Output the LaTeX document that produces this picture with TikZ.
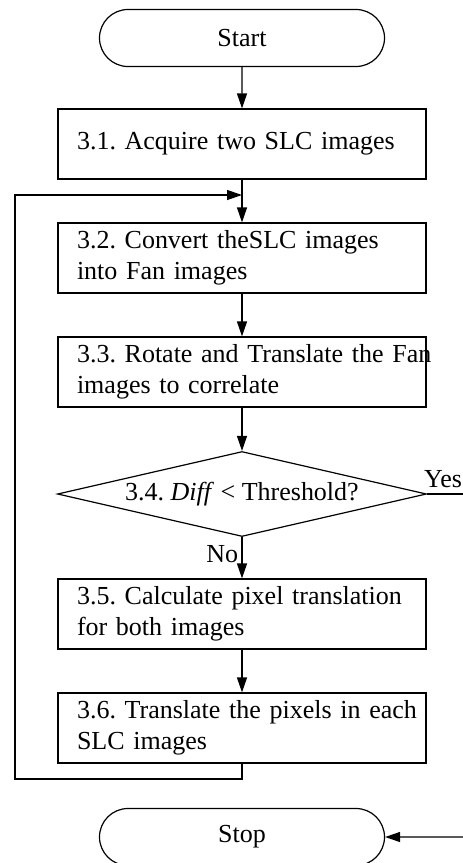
\documentclass[tikz,border=0pt]{standalone}
\usepackage{fontspec}
\setmainfont{Liberation Serif}
\usetikzlibrary{shapes.geometric,shapes.misc,arrows.meta}
\tikzset{
  terminal/.style={rounded rectangle, draw, minimum width=285pt, minimum height=57pt, inner sep=0pt},
  process/.style={rectangle, draw, minimum height=70pt, text width=330pt, inner xsep=19pt, inner ysep=0pt, align=left},
  decision/.style={diamond, draw, aspect=4.3, minimum width=369pt, minimum height=85pt, inner sep=0pt},
  flow/.style={-{Triangle[length=15pt,width=10pt]}}
}

\begin{document}
\begin{tikzpicture}[x=1pt, y=-1pt, line width=1.2pt, font=\fontsize{26}{31}\selectfont\frenchspacing]
  \useasboundingbox (0,0) rectangle (463,863);

  \node[terminal] (start) at (242,38) {Start};
  \node[process] (acq) at (242,144) {3.1. Acquire two SLC images};
  \node[process] (conv) at (242,258) {3.2. Convert theSLC images\\into Fan images};
  \node[process] (rot) at (242,372) {\mbox{3.3. Rotate and Translate the Fan}\\images to correlate};
  \node[decision] (diff) at (242,494) {3.4. \textit{Diff} < Threshold?};
  \node[process] (calc) at (242,614) {3.5. Calculate pixel translation\\for both images};
  \node[process] (trans) at (242,728) {\mbox{3.6. Translate the pixels in each}\\SLC images};
  \node[terminal] (stop) at (242,837) {Stop};

  \coordinate (loopbot) at (15,779);
  \coordinate (looptop) at (15,195);
  \coordinate (yesout) at (463,494);
  \coordinate (stopin) at (463,837);

  \draw[flow] (start) -- (acq);
  \draw[flow] (acq) -- (conv);
  \draw[flow] (conv) -- (rot);
  \draw[flow] (rot) -- (diff);
  \draw[flow] (diff) -- node[left, pos=0.4] {No} (calc);
  \draw[flow] (calc) -- (trans);
  \draw[flow] (trans.south) |- (loopbot) -- (looptop) -- (acq.south |- looptop);
  \draw (diff.east) -- node[above, inner sep=6pt, xshift=-2pt] {Yes} (yesout);
  \draw[flow] (stopin) -- (stop);
\end{tikzpicture}
\end{document}
